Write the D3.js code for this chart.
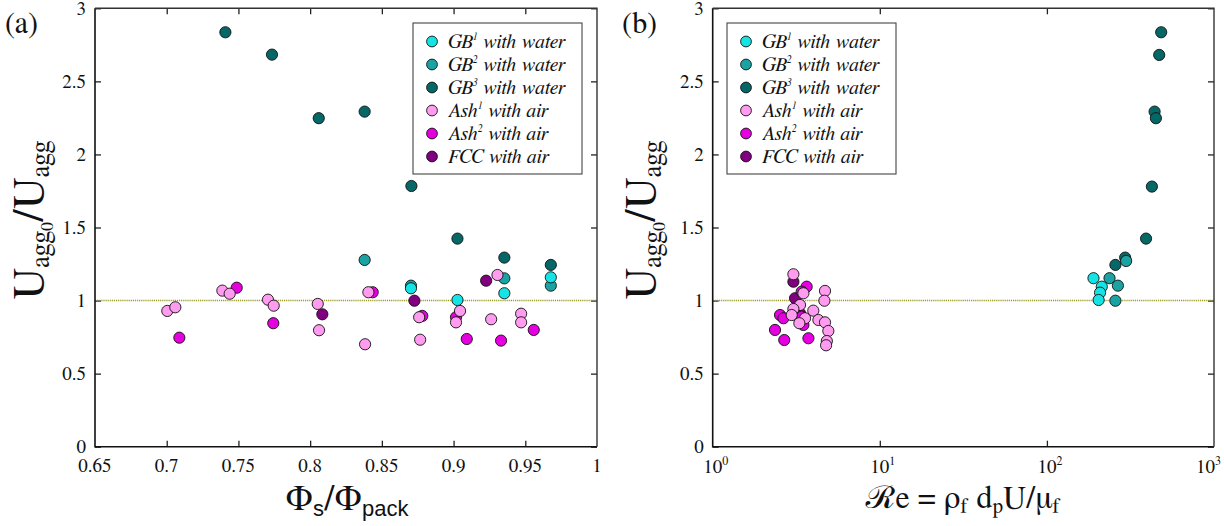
<!DOCTYPE html>
<html><head><meta charset="utf-8">
<script src="https://cdn.jsdelivr.net/npm/d3@7"></script>
<style>body{margin:0;background:#fff}</style>
</head><body><svg id="c" width="1224" height="526"></svg>
<script>
// ---------- legend / series ----------
const seriesKeys = ["GB1","GB2","GB3","Ash1","Ash2","FCC"];
const legendBase = ["GB","GB","GB","Ash","Ash","FCC"];
const legendSup  = ["1","2","3","1","2",""];
const legendRest = [" with water"," with water"," with water"," with air"," with air"," with air"];
const seriesColors = ["#16e3e3","#1ba3a3","#066767","#ff9cf0","#e600e0","#800080"];
const drawOrder = ["GB3","GB2","GB1","FCC","Ash2","Ash1"];

// ---------- panel (a): Phi_s/Phi_pack ----------
const phiGB1 = [0.8703,0.9027,0.9354,0.9678];
const uA_GB1 = [1.084,1.004,1.05,1.159];
const phiGB2 = [0.838,0.8703,0.9354,0.9678];
const uA_GB2 = [1.278,1.102,1.152,1.102];
const phiGB3 = [0.7409,0.7734,0.806,0.838,0.8706,0.9027,0.9354,0.9678];
const uA_GB3 = [2.836,2.683,2.248,2.293,1.784,1.424,1.294,1.244];
const phiAsh1 = [0.7004,0.706,0.7388,0.7439,0.7706,0.7746,0.8053,0.8062,0.8383,0.8406,0.876,0.8767,0.9017,0.9045,0.9262,0.9306,0.9471,0.9471];
const uA_Ash1 = [0.929,0.954,1.068,1.047,1.006,0.965,0.977,0.797,0.701,1.057,0.886,0.732,0.851,0.929,0.872,1.175,0.91,0.851];
const phiAsh2 = [0.7088,0.7488,0.7743,0.8436,0.8782,0.9017,0.9092,0.9331,0.9559];
const uA_Ash2 = [0.746,1.088,0.845,1.057,0.895,0.886,0.737,0.726,0.799];
const phiFCC = [0.8085,0.8727,0.9227];
const uA_FCC = [0.906,0.999,1.136];

// ---------- panel (b): Re ----------
const reGB1 = [190,213,208,204];
const uB_GB1 = [1.153,1.095,1.054,1.004];
const reGB2 = [298,237,266,257];
const uB_GB2 = [1.271,1.153,1.102,0.999];
const reGB3 = [483,470,441,449,425,392,294,257];
const uB_GB3 = [2.836,2.681,2.293,2.248,1.78,1.424,1.294,1.244];
const reAsh1 = [3.04,4.70,4.66,3.49,3.33,3.04,4.0,2.97,3.57,4.29,4.70,3.30,4.92,4.82,4.77];
const uB_Ash1 = [1.18,1.066,0.999,1.05,0.97,0.942,0.931,0.901,0.879,0.867,0.851,0.845,0.792,0.723,0.694];
const reAsh2 = [3.65,3.41,2.53,2.65,2.36,2.68,3.74,3.49,3.41];
const uB_Ash2 = [1.095,1.061,0.901,0.879,0.799,0.730,0.742,0.833,0.89];
const reFCC = [3.04,3.11,3.33];
const uB_FCC = [1.129,1.016,0.913];

// ---------- ticks ----------
const yTicks = [0,0.5,1,1.5,2,2.5,3];
const yTickLabels = ["0","0.5","1","1.5","2","2.5","3"];
const phiTicks = [0.65,0.7,0.75,0.8,0.85,0.9,0.95,1];
const phiTickLabels = ["0.65","0.7","0.75","0.8","0.85","0.9","0.95","1"];
const reTicks = [1,10,100,1000];
const reTickExp = ["0","1","2","3"];
const refLineY = 1;

const panelA = {
  x: {GB1:phiGB1,GB2:phiGB2,GB3:phiGB3,Ash1:phiAsh1,Ash2:phiAsh2,FCC:phiFCC},
  y: {GB1:uA_GB1,GB2:uA_GB2,GB3:uA_GB3,Ash1:uA_Ash1,Ash2:uA_Ash2,FCC:uA_FCC}
};
const panelB = {
  x: {GB1:reGB1,GB2:reGB2,GB3:reGB3,Ash1:reAsh1,Ash2:reAsh2,FCC:reFCC},
  y: {GB1:uB_GB1,GB2:uB_GB2,GB3:uB_GB3,Ash1:uB_Ash1,Ash2:uB_Ash2,FCC:uB_FCC}
};

const svg = d3.select("#c");
const SERIF = "FreeSerif,'Liberation Serif',serif";
const SANS = "'Liberation Sans',Arial,sans-serif";
const yTop = 8.3, yBottom = 446.7;
const yScale = d3.scaleLinear().domain([0,3]).range([yBottom, yTop]);

function drawPanel(opt) {
  const g = svg.append("g");
  const xs = opt.xScale;
  const [x0, x1] = xs.range();
  const styleAx = (sel) => { sel.select(".domain").remove(); sel.selectAll("line").attr("stroke", "#222").attr("stroke-width", 1.3); };
  const ends = d => d === opt.xTicks[0] || d === opt.xTicks[opt.xTicks.length-1];
  const gb = g.append("g").attr("transform", `translate(0,${yBottom})`)
    .call(d3.axisBottom(xs).tickValues(opt.xTicks).tickSizeInner(-6).tickSizeOuter(0).tickFormat(() => ""));
  styleAx(gb); gb.selectAll(".tick").filter(ends).select("line").remove();
  const gt = g.append("g").attr("transform", `translate(0,${yTop})`)
    .call(d3.axisTop(xs).tickValues(opt.xTicks).tickSizeInner(-6).tickSizeOuter(0).tickFormat(() => ""));
  styleAx(gt); gt.selectAll(".tick").filter(ends).select("line").remove();
  const gl = g.append("g").attr("transform", `translate(${x0},0)`)
    .call(d3.axisLeft(yScale).tickValues(yTicks).tickSizeInner(-6).tickSizeOuter(0).tickFormat(() => ""));
  styleAx(gl);
  const gr = g.append("g").attr("transform", `translate(${x1},0)`)
    .call(d3.axisRight(yScale).tickValues(yTicks).tickSizeInner(-6).tickSizeOuter(0).tickFormat(() => ""));
  styleAx(gr);

  // y tick labels
  g.selectAll(".ylab").data(yTicks).join("text")
    .attr("x", x0 - 9).attr("y", d => yScale(d) + 6.5)
    .attr("text-anchor", "end").attr("font-family", SERIF).attr("font-size", 19)
    .attr("fill", "#111").text((d,i) => yTickLabels[i]);
  opt.xLabels(g, xs);

  // reference line
  g.append("line").attr("x1", x0).attr("x2", x1)
    .attr("y1", yScale(refLineY)).attr("y2", yScale(refLineY))
    .attr("stroke", "#9c9a2c").attr("stroke-width", 1.6).attr("stroke-dasharray", "1.2,0.9");

  // frame
  g.append("path").attr("d", `M${x0},${yTop}V${yBottom}H${x1}`).attr("fill","none").attr("stroke","#111").attr("stroke-width",1.6);
  g.append("path").attr("d", `M${x0},${yTop}H${x1}V${yBottom}`).attr("fill","none").attr("stroke","#333").attr("stroke-width",1.4);

  // points
  drawOrder.forEach(k => {
    const ci = seriesKeys.indexOf(k);
    const xsVals = opt.data.x[k], ysVals = opt.data.y[k];
    g.append("g").selectAll("circle").data(xsVals.map((v,i) => [v, ysVals[i]])).join("circle")
      .attr("cx", d => xs(d[0])).attr("cy", d => yScale(d[1])).attr("r", 5.6)
      .attr("fill", seriesColors[ci]).attr("stroke", "#111").attr("stroke-width", 0.9);
  });

  // legend
  const lg = g.append("g");
  lg.append("rect").attr("x", opt.legX).attr("y", 23).attr("width", 169).attr("height", 151)
    .attr("fill", "#fff").attr("stroke", "#444").attr("stroke-width", 1.1);
  seriesKeys.forEach((k, i) => {
    const cy = 41.5 + i * 23;
    lg.append("circle").attr("cx", opt.legX + 19).attr("cy", cy).attr("r", 5.4)
      .attr("fill", seriesColors[i]).attr("stroke", "#111").attr("stroke-width", 0.9);
    const t = lg.append("text").attr("x", opt.legX + 35).attr("y", cy + 6.5)
      .attr("font-family", SERIF).attr("font-style", "italic").attr("font-size", 20).attr("fill", "#111");
    t.append("tspan").text(legendBase[i]);
    if (legendSup[i]) t.append("tspan").attr("font-size", 10).attr("dy", -8).text(legendSup[i]);
    t.append("tspan").attr("dy", legendSup[i] ? 8 : 0).text(legendRest[i]);
  });

  // panel label
  g.append("text").attr("x", opt.tagX).attr("y", 33).attr("font-family", SERIF).attr("font-size", 30)
    .attr("fill", "#111").text(opt.tag);

  // y axis label
  const yl = g.append("text").attr("transform", `translate(${opt.yLabX},220) rotate(-90)`)
    .attr("text-anchor", "middle").attr("font-family", SERIF).attr("fill", "#111").attr("font-size", 44);
  yl.append("tspan").text("U");
  yl.append("tspan").attr("font-size", 27).attr("dy", 6).text("agg");
  yl.append("tspan").attr("font-size", 18).attr("dy", 4).text("0");
  yl.append("tspan").attr("dy", -10).text("/U");
  yl.append("tspan").attr("font-size", 27).attr("dy", 6).text("agg");

  opt.xTitle(g);
}

// Panel (a)
drawPanel({
  xScale: d3.scaleLinear().domain([0.65, 1]).range([95, 597]),
  xTicks: phiTicks,
  data: panelA, legX: 413, tag: "(a)", tagX: 5, yLabX: 43,
  xLabels: (g, xs) => {
    g.selectAll(".xlab").data(phiTicks).join("text")
      .attr("x", d => xs(d)).attr("y", 472).attr("text-anchor", "middle")
      .attr("font-family", SERIF).attr("font-size", 19).attr("fill", "#111")
      .text((d,i) => phiTickLabels[i]);
  },
  xTitle: (g) => {
    const t = g.append("text").attr("x", 347).attr("y", 510).attr("text-anchor", "middle")
      .attr("font-family", SERIF).attr("font-size", 36).attr("fill", "#111");
    t.append("tspan").text("Φ");
    t.append("tspan").attr("font-family", SANS).attr("font-size", 22).attr("dy", 6).text("s");
    t.append("tspan").attr("dy", -6).text("/Φ");
    t.append("tspan").attr("font-family", SANS).attr("font-size", 22).attr("dy", 6).text("pack");
  }
});

// Panel (b)
drawPanel({
  xScale: d3.scaleLog().domain([1, 1000]).range([712.7, 1214]),
  xTicks: reTicks,
  data: panelB, legX: 727, tag: "(b)", tagX: 622, yLabX: 655,
  xLabels: (g, xs) => {
    reTicks.forEach((d, i) => {
      const last = i === reTicks.length - 1;
      const t = g.append("text").attr("x", last ? 1221 : xs(d) + 3).attr("y", 473)
        .attr("text-anchor", last ? "end" : "middle")
        .attr("font-family", SERIF).attr("font-size", 19).attr("fill", "#111");
      t.append("tspan").text("10");
      t.append("tspan").attr("font-size", 12).attr("dy", -8).text(reTickExp[i]);
    });
  },
  xTitle: (g) => {
    const t = g.append("text").attr("x", 963).attr("y", 508).attr("text-anchor", "middle")
      .attr("font-family", SERIF).attr("font-size", 32).attr("fill", "#111");
    t.append("tspan").text("ℛe = ρ");
    t.append("tspan").attr("font-size", 21).attr("dy", 5).text("f");
    t.append("tspan").attr("dy", -5).text(" d");
    t.append("tspan").attr("font-size", 21).attr("dy", 5).text("p");
    t.append("tspan").attr("dy", -5).text("U/μ");
    t.append("tspan").attr("font-size", 21).attr("dy", 5).text("f");
  }
});
</script></body></html>
